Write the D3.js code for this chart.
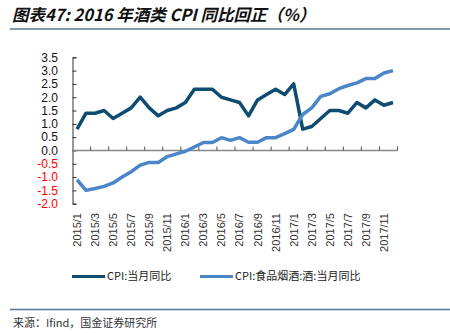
<!DOCTYPE html>
<html>
<head>
<meta charset="utf-8">
<script src="https://cdn.jsdelivr.net/npm/d3@7"></script>
<style>
  body { margin: 0; background: #fff; }
  text { font-family: "Liberation Sans", Arial, "Noto Sans CJK SC", sans-serif; }
  .cjk { font-family: "Noto Sans CJK SC", sans-serif; }
</style>
</head>
<body>
<script>
// months 2015/1 .. 2017/12
var months = [];
[2015, 2016, 2017].forEach(function(y) {
  for (var m = 1; m <= 12; m++) months.push(y + "/" + m);
});

// CPI: 当月同比
var cpiAll = [0.8, 1.4, 1.4, 1.5, 1.2, 1.4, 1.6, 2.0, 1.6, 1.3, 1.5, 1.6,
              1.8, 2.3, 2.3, 2.3, 2.0, 1.9, 1.8, 1.3, 1.9, 2.1, 2.3, 2.1,
              2.5, 0.8, 0.9, 1.2, 1.5, 1.5, 1.4, 1.8, 1.6, 1.9, 1.7, 1.8];

// CPI: 食品烟酒: 酒: 当月同比
var cpiWine = [-1.1, -1.5, -1.43, -1.35, -1.22, -1.0, -0.8, -0.55, -0.45, -0.45, -0.23, -0.13,
               -0.03, 0.13, 0.3, 0.3, 0.48, 0.38, 0.48, 0.31, 0.31, 0.48, 0.48, 0.63,
               0.79, 1.35, 1.6, 2.03, 2.13, 2.32, 2.44, 2.54, 2.7, 2.7, 2.91, 3.0];

var yTicks = [3.5, 3.0, 2.5, 2.0, 1.5, 1.0, 0.5, 0.0, -0.5, -1.0, -1.5, -2.0];

var seriesNames = ["CPI:当月同比", "CPI:食品烟酒:酒:当月同比"];
var colors = ["#0f4c71", "#4a86c8"];

var width = 450, height = 333;

var svg = d3.select("body").append("svg")
    .attr("width", width)
    .attr("height", height);

// title + rules
svg.append("text")
    .attr("class", "cjk")
    .attr("x", 12)
    .attr("y", 21)
    .style("font-size", "16.5px")
    .style("font-weight", "bold")
    .style("font-style", "italic")
    .style("fill", "#111")
    .text("图表47: 2016 年酒类 CPI 同比回正（%）");

svg.append("line")
    .attr("x1", 10).attr("x2", 450)
    .attr("y1", 29).attr("y2", 29)
    .style("stroke", "#52799a")
    .style("stroke-width", 1.6);

svg.append("line")
    .attr("x1", 10).attr("x2", 450)
    .attr("y1", 309.5).attr("y2", 309.5)
    .style("stroke", "#52799a")
    .style("stroke-width", 1.6);

svg.append("text")
    .attr("class", "cjk")
    .attr("x", 13)
    .attr("y", 327)
    .style("font-size", "11px")
    .style("fill", "#333")
    .text("来源：Ifind，国金证券研究所");

// scales
var x = d3.scaleBand()
    .domain(months)
    .range([72.5, 397.5]);

var y = d3.scaleLinear()
    .domain([-2, 3.5])
    .range([203.7, 57.3]);

// y axis, ticks pointing inward
var yAxis = svg.append("g")
    .attr("transform", "translate(72.5,0)")
    .call(d3.axisRight(y).tickValues(yTicks).tickSize(4).tickFormat(""));
yAxis.select(".domain").style("stroke", "#333");
yAxis.selectAll(".tick line").style("stroke", "#333");

svg.selectAll(".ylab")
    .data(yTicks)
    .enter()
    .append("text")
      .attr("class", "ylab")
      .attr("x", 58)
      .attr("y", function(d) { return y(d); })
      .attr("dy", "0.36em")
      .attr("text-anchor", "end")
      .style("font-size", "12px")
      .style("fill", function(d) { return d < 0 ? "#ff0000" : "#111"; })
      .text(function(d) { return d.toFixed(1); });

// x axis at zero, ticks every 2 months pointing up
svg.append("line")
    .attr("x1", 72.5).attr("x2", 397.5)
    .attr("y1", y(0)).attr("y2", y(0))
    .style("stroke", "#888")
    .style("stroke-width", 1.5);

var boundaries = months.filter(function(d, i) { return i % 2 === 1; });
svg.selectAll(".xtick")
    .data(boundaries)
    .enter()
    .append("line")
      .attr("class", "xtick")
      .attr("x1", function(d) { return x(d) + x.bandwidth(); })
      .attr("x2", function(d) { return x(d) + x.bandwidth(); })
      .attr("y1", y(0))
      .attr("y2", y(0) - 4)
      .style("stroke", "#555");

svg.selectAll(".xlab")
    .data(months.filter(function(d, i) { return i % 2 === 0; }))
    .enter()
    .append("text")
      .attr("class", "xlab")
      .attr("transform", function(d) {
        return "translate(" + (x(d) + x.bandwidth() / 2) + ",213)rotate(-90)";
      })
      .attr("dy", "0.36em")
      .attr("text-anchor", "end")
      .style("font-size", "11px")
      .style("fill", "#333")
      .text(function(d) { return d; });

// lines
var line = d3.line()
    .x(function(d, i) { return x(months[i]) + x.bandwidth() / 2; })
    .y(function(d) { return y(d); });

[cpiAll, cpiWine].forEach(function(s, k) {
  svg.append("path")
      .datum(s)
      .attr("d", line)
      .style("fill", "none")
      .style("stroke", colors[k])
      .style("stroke-width", 3.5)
      .style("stroke-linejoin", "round");
});

// legend
var legendX = [72, 200];
seriesNames.forEach(function(name, k) {
  svg.append("line")
      .attr("x1", legendX[k]).attr("x2", legendX[k] + 33)
      .attr("y1", 276.5).attr("y2", 276.5)
      .style("stroke", colors[k])
      .style("stroke-width", 3);
  svg.append("text")
      .attr("class", "cjk")
      .attr("x", legendX[k] + 35)
      .attr("y", 276.5)
      .attr("dy", "0.36em")
      .style("font-size", "11px")
      .style("fill", "#222")
      .text(name);
});
</script>
</body>
</html>
